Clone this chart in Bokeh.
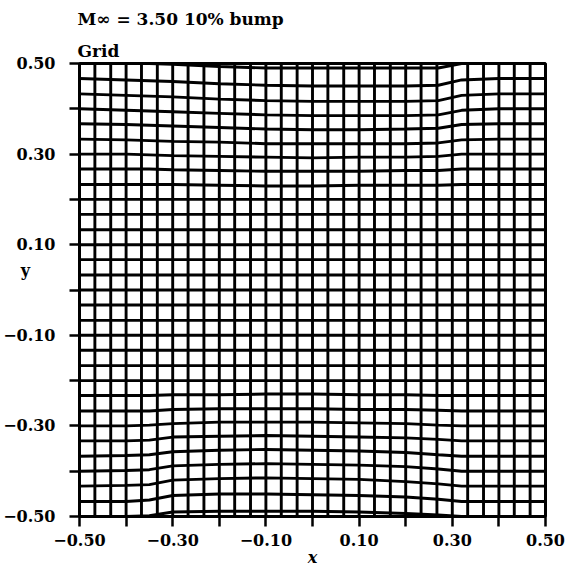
from bokeh.plotting import figure
from bokeh.models import ColumnDataSource, FixedTicker, Range1d, Title
from bokeh.embed import file_html
from bokeh.resources import INLINE

# ---- data ----------------------------------------------------------------
# positions of the 31 vertical grid lines (x) and 31 horizontal grid lines (y)
x_cols = [-0.500, -0.467, -0.433, -0.400, -0.367, -0.333, -0.300, -0.267, -0.233, -0.200,
          -0.167, -0.133, -0.100, -0.067, -0.033, 0.000, 0.033, 0.067, 0.100, 0.133,
          0.167, 0.200, 0.233, 0.267, 0.300, 0.333, 0.367, 0.400, 0.433, 0.467, 0.500]
y_rows = [-0.500, -0.467, -0.433, -0.400, -0.367, -0.333, -0.300, -0.267, -0.233, -0.200,
          -0.167, -0.133, -0.100, -0.067, -0.033, 0.000, 0.033, 0.067, 0.100, 0.133,
          0.167, 0.200, 0.233, 0.267, 0.300, 0.333, 0.367, 0.400, 0.433, 0.467, 0.500]

# x stations at which the distortion of the horizontal lines was read
stations = [-0.50, -0.40, -0.35, -0.30, -0.20, -0.10, 0.00, 0.10, 0.20, 0.27, 0.32, 0.40, 0.50]

# displacement (in cell heights) of the rows near the upper wall
top_band_rows = [30, 29, 28, 27, 26, 25, 24, 23, 22]
top_band_shift = [
    [0, 0.00, 0.00, -0.05, -0.20, -0.30, -0.30, -0.30, -0.30, -0.30, 0.00, 0, 0],
    [0, -0.10, -0.15, -0.20, -0.35, -0.45, -0.50, -0.50, -0.50, -0.45, -0.10, 0, 0],
    [0, -0.10, -0.15, -0.20, -0.35, -0.45, -0.50, -0.50, -0.50, -0.45, -0.10, 0, 0],
    [0, -0.10, -0.15, -0.20, -0.30, -0.40, -0.45, -0.45, -0.45, -0.40, -0.10, 0, 0],
    [0, -0.05, -0.10, -0.15, -0.25, -0.35, -0.40, -0.40, -0.35, -0.30, -0.05, 0, 0],
    [0, -0.05, -0.10, -0.15, -0.20, -0.30, -0.30, -0.30, -0.30, -0.25, -0.05, 0, 0],
    [0, 0.00, -0.05, -0.10, -0.15, -0.20, -0.25, -0.20, -0.20, -0.15, 0.00, 0, 0],
    [0, 0.00, 0.00, -0.05, -0.10, -0.15, -0.15, -0.15, -0.10, -0.10, 0.00, 0, 0],
    [0, 0.00, 0.00, 0.00, -0.05, -0.10, -0.10, -0.05, -0.05, -0.05, 0.00, 0, 0],
]

# displacement (in cell heights) of the rows near the lower wall
bottom_band_rows = [0, 1, 2, 3, 4, 5, 6, 7, 8]
bottom_band_shift = [
    [0, 0.00, 0.05, 0.30, 0.35, 0.35, 0.35, 0.30, 0.20, 0.10, 0.00, 0, 0],
    [0, 0.00, 0.10, 0.40, 0.50, 0.50, 0.45, 0.40, 0.30, 0.15, 0.00, 0, 0],
    [0, 0.05, 0.10, 0.40, 0.50, 0.55, 0.50, 0.45, 0.30, 0.15, 0.00, 0, 0],
    [0, 0.05, 0.10, 0.35, 0.45, 0.50, 0.45, 0.40, 0.30, 0.15, 0.00, 0, 0],
    [0, 0.05, 0.10, 0.30, 0.40, 0.45, 0.40, 0.35, 0.25, 0.10, 0.00, 0, 0],
    [0, 0.00, 0.05, 0.25, 0.30, 0.35, 0.30, 0.25, 0.20, 0.10, 0.00, 0, 0],
    [0, 0.00, 0.05, 0.15, 0.25, 0.25, 0.25, 0.20, 0.15, 0.05, 0.00, 0, 0],
    [0, 0.00, 0.00, 0.10, 0.15, 0.15, 0.15, 0.10, 0.10, 0.05, 0.00, 0, 0],
    [0, 0.00, 0.00, 0.05, 0.05, 0.10, 0.10, 0.05, 0.05, 0.00, 0.00, 0, 0],
]

major_ticks = [-0.5, -0.3, -0.1, 0.1, 0.3, 0.5]
minor_ticks = [-0.4, -0.2, 0.0, 0.2, 0.4]
tick_labels = ["\u22120.50", "\u22120.30", "\u22120.10", "0.10", "0.30", "0.50"]

title_text = "M\u221e = 3.50 10% bump"
subtitle_text = "Grid"
x_name = "x"
y_name = "y"

# ---- build line geometry -------------------------------------------------
cell = (y_rows[-1] - y_rows[0]) / (len(y_rows) - 1)
shift_of = {}
for r, s in zip(top_band_rows, top_band_shift):
    shift_of[r] = s
for r, s in zip(bottom_band_rows, bottom_band_shift):
    shift_of[r] = s

h_xs, h_ys = [], []
for j, y0 in enumerate(y_rows):
    s = shift_of.get(j, [0] * len(stations))
    h_xs.append(list(stations))
    h_ys.append([y0 + v * cell for v in s])

v_xs = [[x, x] for x in x_cols]
v_ys = [[y_rows[0], y_rows[-1]] for _ in x_cols]

src = ColumnDataSource(dict(xs=h_xs + v_xs, ys=h_ys + v_ys))

FONT = "DejaVu Serif"

p = figure(frame_width=466, frame_height=453,
           x_range=Range1d(-0.5, 0.5), y_range=Range1d(-0.5, 0.5),
           output_backend="svg", toolbar_location=None, title=None,
           min_border_left=71, min_border_top=57, min_border_right=20, min_border_bottom=39,
           background_fill_color="white", border_fill_color="white")

p.multi_line(xs="xs", ys="ys", source=src, line_color="black", line_width=2.9)

p.xgrid.visible = False
p.ygrid.visible = False
p.outline_line_color = "black"
p.outline_line_width = 3
p.outline_line_alpha = 1.0

for ax in (p.xaxis[0], p.yaxis[0]):
    ax.axis_line_color = "black"
    ax.axis_line_width = 3
    ax.major_tick_line_color = "black"
    ax.major_tick_line_width = 2.5
    ax.minor_tick_line_color = "black"
    ax.minor_tick_line_width = 2.5
    ax.major_tick_in = 0
    ax.minor_tick_in = 0
    ax.minor_tick_out = 10
    ax.major_label_text_font = FONT
    ax.major_label_text_font_style = "bold"
    ax.major_label_text_font_size = "16px"
    ax.major_label_text_color = "black"

# x axis: labelled ticks every 0.2, plain ticks between, name below
xa = p.xaxis[0]
xa.ticker = FixedTicker(ticks=major_ticks, minor_ticks=minor_ticks)
xa.major_label_overrides = {t: l for t, l in zip(major_ticks, tick_labels)}
xa.major_tick_out = 10
xa.major_label_standoff = 7
xa.axis_label = x_name
xa.axis_label_text_font = FONT
xa.axis_label_text_font_style = "bold italic"
xa.axis_label_text_font_size = "16px"
xa.axis_label_text_color = "black"
xa.axis_label_standoff = -1

# y axis: tick marks drawn as minor ticks; the axis name sits among the labels
ya = p.yaxis[0]
y_name_pos = 0.044
ya.ticker = FixedTicker(ticks=major_ticks + [y_name_pos], minor_ticks=major_ticks + minor_ticks)
ov = {t: l for t, l in zip(major_ticks, tick_labels)}
ov[y_name_pos] = y_name + "\u00a0" * 4 + "\u2009"
ya.major_label_overrides = ov
ya.major_tick_out = 0
ya.major_label_standoff = 14

# titles above the frame (first added sits nearest the frame)
p.add_layout(Title(text=subtitle_text, align="left", offset=-2, standoff=6,
                   text_font=FONT, text_font_style="bold", text_font_size="17px",
                   text_color="black"), "above")
p.add_layout(Title(text=title_text, align="left", offset=-2, standoff=13,
                   text_font=FONT, text_font_style="bold", text_font_size="17px",
                   text_color="black"), "above")

open("out.html", "w").write(file_html(p, INLINE))
